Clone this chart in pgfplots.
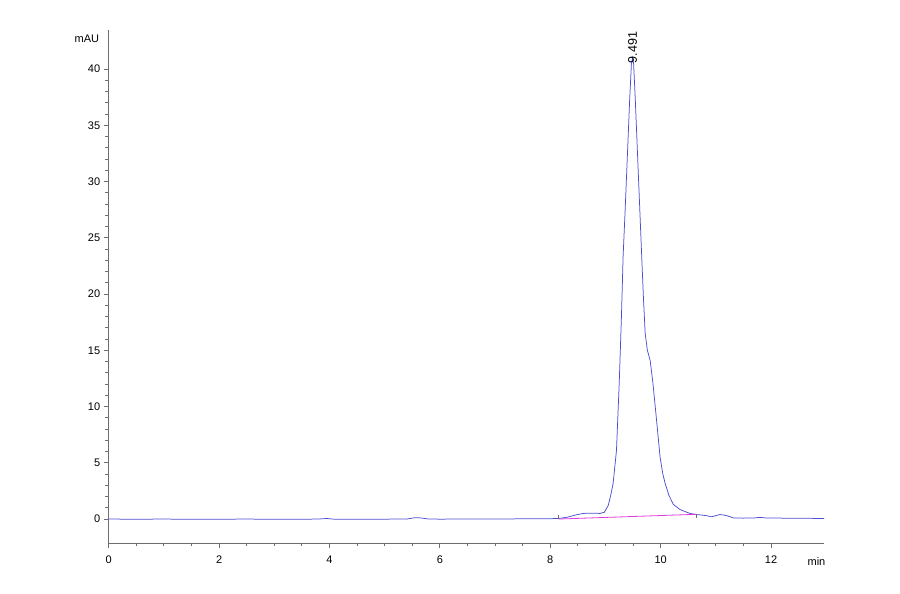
\documentclass[border=0pt]{standalone}
\usepackage{pgfplots}
\pgfplotsset{compat=1.18}
\usepackage{fontspec}
\setmainfont{Liberation Sans}

\definecolor{trace}{RGB}{78,78,210}
\definecolor{base}{RGB}{225,60,225}
\definecolor{axgray}{RGB}{110,110,110}

\begin{document}
\begin{tikzpicture}
\useasboundingbox (-108.7pt,-51pt) rectangle (791.3pt,543pt);
\begin{axis}[
    scale only axis,
    width=715.3pt,
    height=513pt,
    xmin=0, xmax=12.96,
    ymin=-2.13, ymax=43.47,
    axis x line*=bottom,
    axis y line*=left,
    axis line style={axgray, line width=0.8pt, -},
    tick style={axgray, line width=0.8pt},
    tick align=outside,
    major tick length=5pt,
    minor tick length=3.5pt,
    xtick={0,2,...,12},
    ytick={0,5,...,40},
    minor x tick num=3,
    minor y tick num=4,
    font=\fontsize{11}{13}\selectfont,
    xticklabel style={yshift=-4.5pt},
    /pgf/number format/assume math mode=true,
    clip=false,
]
% main trace
\addplot[trace, line width=0.75pt] coordinates {
    (0,0) (0.5,-0.02) (1.0,0.0) (1.5,-0.03) (2.0,-0.02) (2.5,0.0)
    (3.0,-0.03) (3.5,-0.02) (3.8,0.0) (3.95,0.05) (4.1,-0.02) (4.5,-0.03)
    (5.0,-0.01) (5.4,0.0) (5.55,0.12) (5.65,0.1) (5.8,0.0) (6.0,-0.01)
    (6.5,0.0) (7.0,0.0) (7.5,0.02) (8.0,0.03) (8.15,0.05) (8.3,0.15)
    (8.45,0.35) (8.6,0.5) (8.75,0.52) (8.9,0.5) (8.98,0.6) (9.05,1.2)
    (9.1,2.2) (9.14,3.2) (9.2,6.1) (9.25,12.1) (9.29,18) (9.32,23.3)
    (9.36,27.8) (9.40,32.6) (9.44,37.4) (9.47,40.4) (9.491,41.0) (9.51,40.5)
    (9.54,37.4) (9.58,32.6) (9.62,27.8) (9.66,23) (9.69,19.5) (9.72,16.5)
    (9.76,15.0) (9.81,14.1) (9.86,12.1) (9.92,9.1) (9.99,5.5) (10.04,4.0)
    (10.08,3.2) (10.15,2.1) (10.23,1.3) (10.35,0.85) (10.45,0.65) (10.53,0.5)
    (10.65,0.4) (10.75,0.35) (10.83,0.3) (10.92,0.2) (11.0,0.3) (11.07,0.4)
    (11.15,0.35) (11.2,0.3) (11.32,0.1) (11.5,0.08) (11.7,0.1) (11.8,0.15)
    (11.9,0.1) (12.2,0.08) (12.5,0.07) (12.96,0.05)
};
% integration baseline
\addplot[base, line width=0.8pt] coordinates {(8.15,0.0) (10.65,0.42)};
\addplot[axgray, line width=0.6pt] coordinates {(8.15,0.0) (8.15,0.35)};
\addplot[axgray, line width=0.6pt] coordinates {(10.65,0.42) (10.65,0.05)};
% peak label
\node[rotate=90, anchor=west, inner sep=0pt, font=\fontsize{12.5}{14}\selectfont]
    at (axis cs:9.491,40.5) {9.491};
\node[anchor=east, inner sep=0pt] at (rel axis cs:0,1) [xshift=-9.4pt, yshift=-8.8pt] {mAU};
\node[inner sep=0pt] at (rel axis cs:1,0) [xshift=-7.5pt, yshift=-19pt] {min};
\end{axis}
\end{tikzpicture}
\end{document}
